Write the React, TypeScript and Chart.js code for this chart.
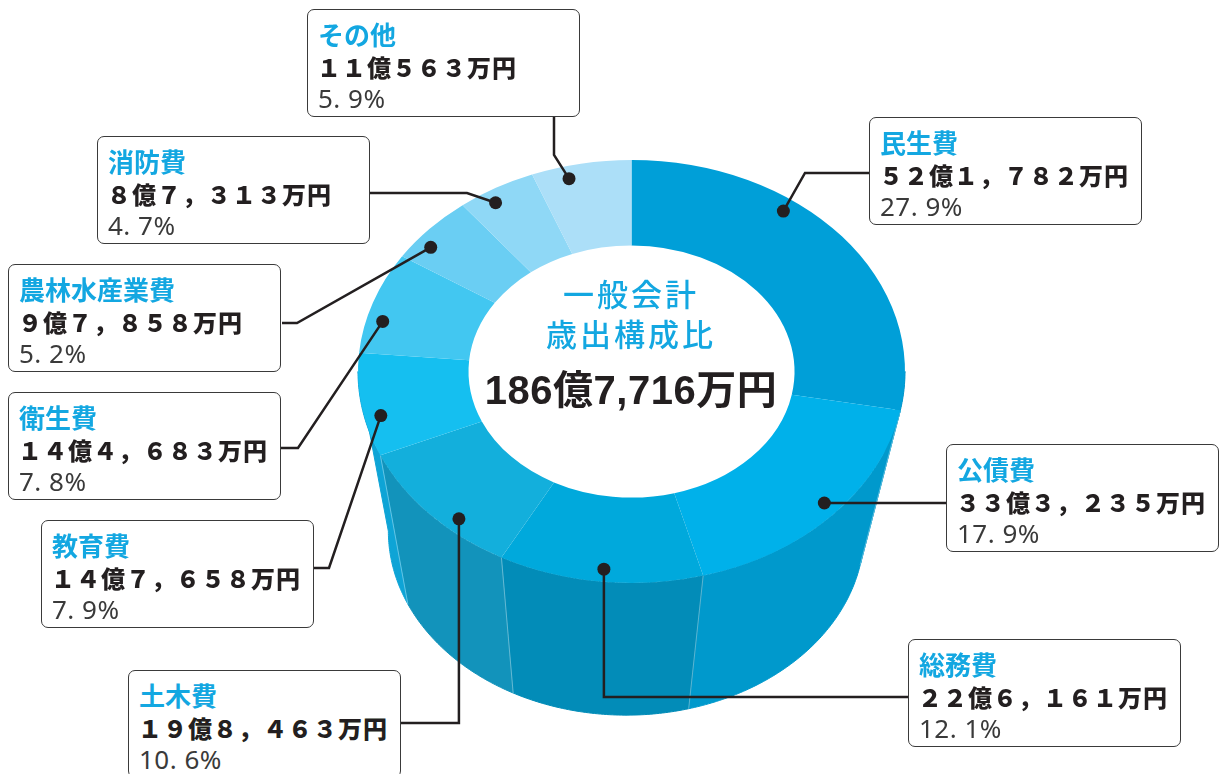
import React, { useEffect, useRef } from 'react';
import { Chart, registerables } from 'chart.js';

Chart.register(...registerables);

// ---- data ----
const categories = ['民生費', '公債費', '総務費', '土木費', '教育費', '衛生費', '農林水産業費', '消防費', 'その他'];
const amounts = [521782, 333235, 226161, 198463, 147658, 144683, 97858, 87313, 110563]; // 万円
const amountLabels = [
  '５２億１，７８２万円',
  '３３億３，２３５万円',
  '２２億６，１６１万円',
  '１９億８，４６３万円',
  '１４億７，６５８万円',
  '１４億４，６８３万円',
  '９億７，８５８万円',
  '８億７，３１３万円',
  '１１億５６３万円',
];
const percentLabels = ['27. 9%', '17. 9%', '12. 1%', '10. 6%', '7. 9%', '7. 8%', '5. 2%', '4. 7%', '5. 9%'];
const centerTitle = ['一般会計', '歳出構成比'];

// ---- styles ----
const topColors = ['#009fd8', '#00b1ea', '#00a9dc', '#13afdc', '#15bff0', '#42c7f1', '#6acef3', '#8fd8f6', '#acdff8'];
const wallColors = ['#008fc2', '#0099cc', '#028cb8', '#1293bb', '#0ea4d6', '#12a6d6', '#3bb5e0', '#6cc6ea', '#8ccfee'];
const Y_SCALE = 0.7733;
const V_OFF = { x: -40, y: 1228 };
const V_FRACTION = 0.13;
const DOT_RADIUS_RATIO = 0.94;

// ---- label layout ----
const BOX_W = 273;
const BOX_H = 108;
const boxPos: [number, number][] = [
  [869, 117], [946, 444], [908, 639], [128, 670], [41, 520], [8, 392], [8, 264], [97, 136], [307, 9],
];
const dotAt = [0.36, 0.48, 0.49, 0.36, 0.37, 0.34, 0.3, 0.37, 0.34];
const leaderPaths: (number | null)[][][] = [
  [[805, 173], [869, 173]],
  [[946, null]],
  [[null, 697], [908, null]],
  [[null, 723], [401, null]],
  [[329, 568], [312, 568]],
  [[298, 448], [279, 448]],
  [[297, 323], [282, 323]],
  [[467, 193], [368, 193]],
  [[554, 155], [554, 117]],
];

function formatTotal(v: number) {
  const oku = Math.floor(v / 10000);
  const man = v % 10000;
  return `${oku}億${man.toLocaleString('en-US')}万円`;
}

const depthPlugin = {
  id: 'depth3d',
  beforeDatasetsDraw(chart: any) {
    const arcs = chart.getDatasetMeta(0).data as any[];
    if (!arcs.length) return;
    const { x: cx, y: cy, outerRadius: R } = arcs[0].getProps(['x', 'y', 'outerRadius'], true);
    const ry = R * Y_SCALE;
    const ctx: CanvasRenderingContext2D = chart.ctx;
    const V = { x: cx + V_OFF.x, y: cy + V_OFF.y };
    const tp = (t: number) => ({ x: cx + R * Math.cos(t), y: cy + ry * Math.sin(t) });
    const bp = (t: number) => {
      const p = tp(t);
      return { x: p.x + V_FRACTION * (V.x - p.x), y: p.y + V_FRACTION * (V.y - p.y) };
    };
    const seams: number[] = [];
    arcs.forEach((arc, i) => {
      const { startAngle, endAngle } = arc.getProps(['startAngle', 'endAngle'], true);
      const a = Math.max(startAngle, 0);
      const b = Math.min(endAngle, Math.PI);
      if (b <= a) return;
      const n = Math.max(4, Math.ceil((b - a) * 80));
      ctx.save();
      ctx.beginPath();
      for (let k = 0; k <= n; k++) {
        const p = tp(a + ((b - a) * k) / n);
        if (k === 0) ctx.moveTo(p.x, p.y); else ctx.lineTo(p.x, p.y);
      }
      for (let k = n; k >= 0; k--) {
        const p = bp(a + ((b - a) * k) / n);
        ctx.lineTo(p.x, p.y);
      }
      ctx.closePath();
      ctx.fillStyle = wallColors[i];
      ctx.strokeStyle = wallColors[i];
      ctx.lineWidth = 1;
      ctx.fill();
      ctx.stroke();
      ctx.restore();
      if (startAngle > 0 && startAngle < Math.PI) seams.push(startAngle);
    });
    ctx.save();
    ctx.strokeStyle = 'rgba(255,255,255,0.35)';
    ctx.lineWidth = 1;
    seams.forEach((t) => {
      const p = tp(t), q = bp(t);
      ctx.beginPath();
      ctx.moveTo(p.x, p.y);
      ctx.lineTo(q.x, q.y);
      ctx.stroke();
    });
    ctx.restore();
    ctx.save();
    ctx.translate(cx, cy);
    ctx.scale(1, Y_SCALE);
    ctx.translate(-cx, -cy);
  },
  afterDatasetsDraw(chart: any) {
    const ctx: CanvasRenderingContext2D = chart.ctx;
    ctx.restore();
    const arcs = chart.getDatasetMeta(0).data as any[];
    if (!arcs.length) return;
    const { x: cx, y: cy, outerRadius: R } = arcs[0].getProps(['x', 'y', 'outerRadius'], true);
    arcs.forEach((arc, i) => {
      const { startAngle, endAngle } = arc.getProps(['startAngle', 'endAngle'], true);
      const ang = startAngle + (endAngle - startAngle) * dotAt[i];
      const r = R * DOT_RADIUS_RATIO;
      const dx = cx + r * Math.cos(ang);
      const dy = cy + r * Math.sin(ang) * Y_SCALE;
      ctx.save();
      ctx.strokeStyle = '#231f20';
      ctx.fillStyle = '#231f20';
      ctx.lineWidth = 2.5;
      ctx.lineJoin = 'miter';
      ctx.beginPath();
      ctx.moveTo(dx, dy);
      let px = dx, py = dy;
      leaderPaths[i].forEach((pt) => {
        px = pt[0] == null ? px : (pt[0] as number);
        py = pt[1] == null ? py : (pt[1] as number);
        ctx.lineTo(px, py);
      });
      ctx.stroke();
      ctx.beginPath();
      ctx.arc(dx, dy, 6.5, 0, Math.PI * 2);
      ctx.fill();
      ctx.restore();
    });
  },
};

const CJK = '"Noto Sans CJK JP", "Noto Sans", sans-serif';

export default function App() {
  const canvasRef = useRef<HTMLCanvasElement | null>(null);

  useEffect(() => {
    if (!canvasRef.current) return;
    const chart = new Chart(canvasRef.current, {
      type: 'doughnut',
      data: {
        labels: categories,
        datasets: [
          {
            data: amounts,
            backgroundColor: topColors,
            borderWidth: 0,
            hoverOffset: 0,
          },
        ],
      },
      options: {
        responsive: false,
        animation: false,
        devicePixelRatio: 1,
        cutout: '59.6%',
        events: [],
        layout: { padding: { left: 358, right: 314, top: 98, bottom: 129 } },
        plugins: { legend: { display: false }, tooltip: { enabled: false } },
      },
      plugins: [depthPlugin],
    } as any);
    return () => chart.destroy();
  }, []);

  const total = amounts.reduce((s, v) => s + v, 0);

  return (
    <div style={{ position: 'fixed', left: 0, top: 0, width: 1219, height: 774, background: '#fff', overflow: 'hidden' }}>
      <canvas ref={canvasRef} width={1219} height={774} style={{ position: 'absolute', left: 0, top: 0 }} />
      {categories.map((c, i) => (
        <div
          key={c}
          style={{
            position: 'absolute',
            left: boxPos[i][0],
            top: boxPos[i][1],
            width: BOX_W,
            height: BOX_H,
            boxSizing: 'border-box',
            border: '1.5px solid #3a3a3a',
            borderRadius: 7,
            background: '#fff',
          }}
        >
          <div style={{ position: 'absolute', left: 10, top: 9, lineHeight: '30px', fontFamily: CJK, fontWeight: 700, fontSize: 26, color: '#13a7e1', whiteSpace: 'nowrap' }}>{c}</div>
          <div style={{ position: 'absolute', left: 9, top: 42, lineHeight: '30px', fontFamily: CJK, fontWeight: 900, fontSize: 24, letterSpacing: 1, color: '#231f20', whiteSpace: 'nowrap' }}>{amountLabels[i]}</div>
          <div style={{ position: 'absolute', left: 10, top: 73, lineHeight: '30px', fontFamily: '"Noto Sans", sans-serif', fontSize: 26, letterSpacing: 0.5, color: '#3a3a3a', whiteSpace: 'nowrap' }}>{percentLabels[i]}</div>
        </div>
      ))}
      <div style={{ position: 'absolute', left: 431, width: 400, top: 273, lineHeight: '40px', textAlign: 'center', fontFamily: CJK, fontWeight: 500, fontSize: 31, letterSpacing: 3, color: '#13a7e1' }}>{centerTitle[0]}</div>
      <div style={{ position: 'absolute', left: 431, width: 400, top: 313, lineHeight: '40px', textAlign: 'center', fontFamily: CJK, fontWeight: 500, fontSize: 31, letterSpacing: 3, color: '#13a7e1' }}>{centerTitle[1]}</div>
      <div style={{ position: 'absolute', left: 381, width: 500, top: 366, lineHeight: '48px', textAlign: 'center', fontFamily: '"Liberation Sans", "Noto Sans CJK JP", sans-serif', fontWeight: 700, fontSize: 40, letterSpacing: 0.5, color: '#231f20' }}>{formatTotal(total)}</div>
    </div>
  );
}
